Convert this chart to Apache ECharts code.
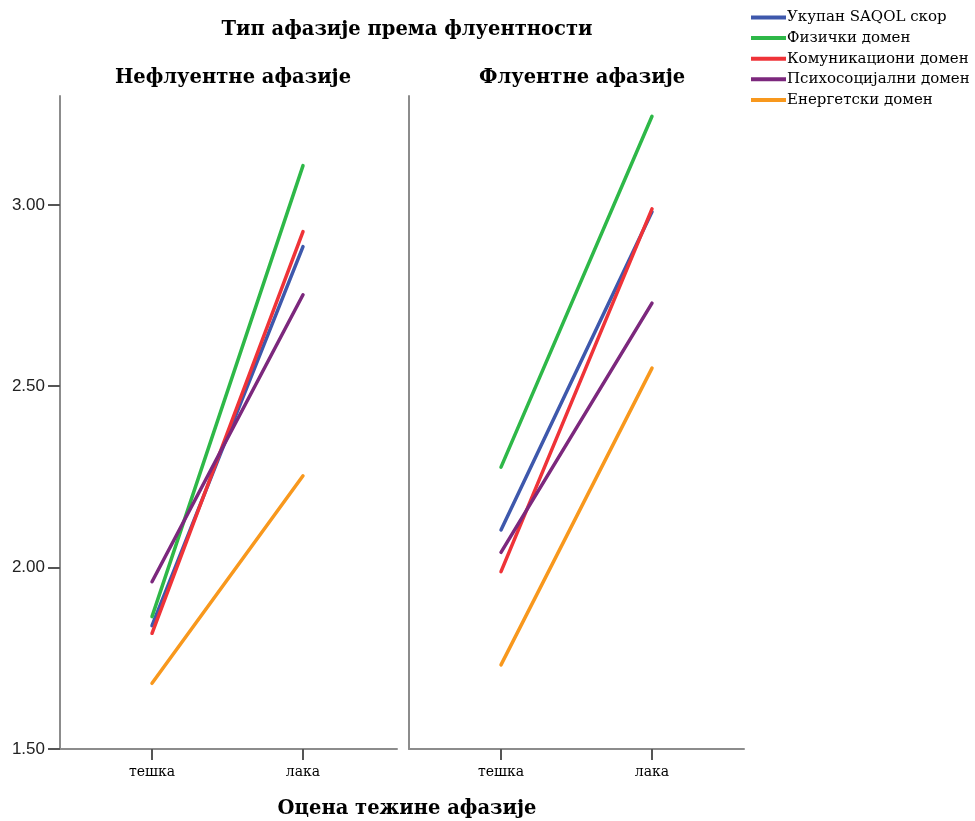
<!DOCTYPE html>
<html><head><meta charset="utf-8">
<script src="https://cdn.jsdelivr.net/npm/echarts@6/dist/echarts.min.js"></script>
<style>html,body{margin:0;padding:0;background:#fff}#c{width:975px;height:821px}</style>
</head><body><div id="c"></div>
<script>
const categories = ['тешка', 'лака'];
const seriesNames = ['Укупан SAQOL скор', 'Физички домен', 'Комуникациони домен', 'Психосоцијални домен', 'Енергетски домен'];
const colors = ['#3E58AC', '#2EB848', '#EF3338', '#7C287D', '#F8981D'];
// Нефлуентне афазије
const nonfluentTotal = [1.84, 2.885];
const nonfluentPhysical = [1.865, 3.108];
const nonfluentCommunication = [1.819, 2.926];
const nonfluentPsychosocial = [1.961, 2.752];
const nonfluentEnergy = [1.681, 2.253];
// Флуентне афазије
const fluentTotal = [2.104, 2.981];
const fluentPhysical = [2.277, 3.244];
const fluentCommunication = [1.989, 2.989];
const fluentPsychosocial = [2.042, 2.729];
const fluentEnergy = [1.732, 2.550];
const yTicks = [1.5, 2.0, 2.5, 3.0];
const panelTitles = ['Нефлуентне афазије', 'Флуентне афазије'];

const panels = [
  [nonfluentTotal, nonfluentPhysical, nonfluentCommunication, nonfluentPsychosocial, nonfluentEnergy],
  [fluentTotal, fluentPhysical, fluentCommunication, fluentPsychosocial, fluentEnergy]
];

const serif = '"DejaVu Serif", "Liberation Serif", serif';
const axisLineStyle = { color: '#8c8c8c', width: 2 };

const grids = [
  { left: 60, top: 96, width: 337, height: 653 },
  { left: 409, top: 96, width: 335, height: 653 }
];

const xAxes = grids.map((g, i) => ({
  type: 'value', gridIndex: i, min: -0.6093, max: i === 0 ? 1.6225 : 1.6092,
  splitLine: { show: false },
  axisLine: { show: true, lineStyle: axisLineStyle, onZero: false },
  axisTick: { show: true, length: 11, inside: false, customValues: [0, 1], lineStyle: { color: '#555', width: 2 } },
  axisLabel: { customValues: [0, 1], formatter: v => categories[Math.round(v)], fontFamily: serif, fontSize: 14, color: '#000', margin: 16 }
}));

const yAxes = grids.map((g, i) => ({
  type: 'value', gridIndex: i, min: 1.5, max: 3.3, interval: 0.5,
  splitLine: { show: false },
  axisLine: { show: true, lineStyle: axisLineStyle, onZero: false },
  axisTick: { show: i === 0, length: 12, customValues: yTicks, lineStyle: { color: '#555', width: 2 } },
  axisLabel: { show: i === 0, customValues: yTicks, formatter: v => v.toFixed(2), fontFamily: '"Liberation Sans", Arial, sans-serif', fontSize: 17, color: '#222', margin: 15 }
}));

const series = [];
panels.forEach((panel, p) => {
  panel.forEach((vals, s) => {
    series.push({
      type: 'line', name: seriesNames[s], xAxisIndex: p, yAxisIndex: p,
      data: categories.map((c, k) => [k, vals[k]]),
      symbol: 'none', color: colors[s],
      lineStyle: { width: 3.5, color: colors[s], cap: 'round' },
      silent: true, animation: false
    });
  });
});

const titleStyle = { fontFamily: serif, fontWeight: 'bold', fontSize: 19.5, color: '#000' };
const chart = echarts.init(document.getElementById('c'), null, { renderer: 'canvas' });
chart.setOption({
  animation: false,
  backgroundColor: '#fff',
  title: [
    { text: 'Тип афазије према флуентности', left: 402, top: 15, textAlign: 'center', textStyle: titleStyle },
    { text: panelTitles[0], left: 228, top: 63, textAlign: 'center', textStyle: titleStyle },
    { text: panelTitles[1], left: 577, top: 63, textAlign: 'center', textStyle: titleStyle },
    { text: 'Оцена тежине афазије', left: 402, top: 794, textAlign: 'center', textStyle: titleStyle }
  ],
  legend: {
    data: seriesNames, orient: 'vertical', left: 746, top: 5,
    icon: 'rect', itemWidth: 35, itemHeight: 4, itemGap: 5.6,
    textStyle: { fontFamily: serif, fontSize: 15, color: '#000', lineHeight: 14, padding: [0, 0, 0, -4] },
    selectedMode: false
  },
  grid: grids,
  xAxis: xAxes,
  yAxis: yAxes,
  series: series
});
</script>
</body></html>
